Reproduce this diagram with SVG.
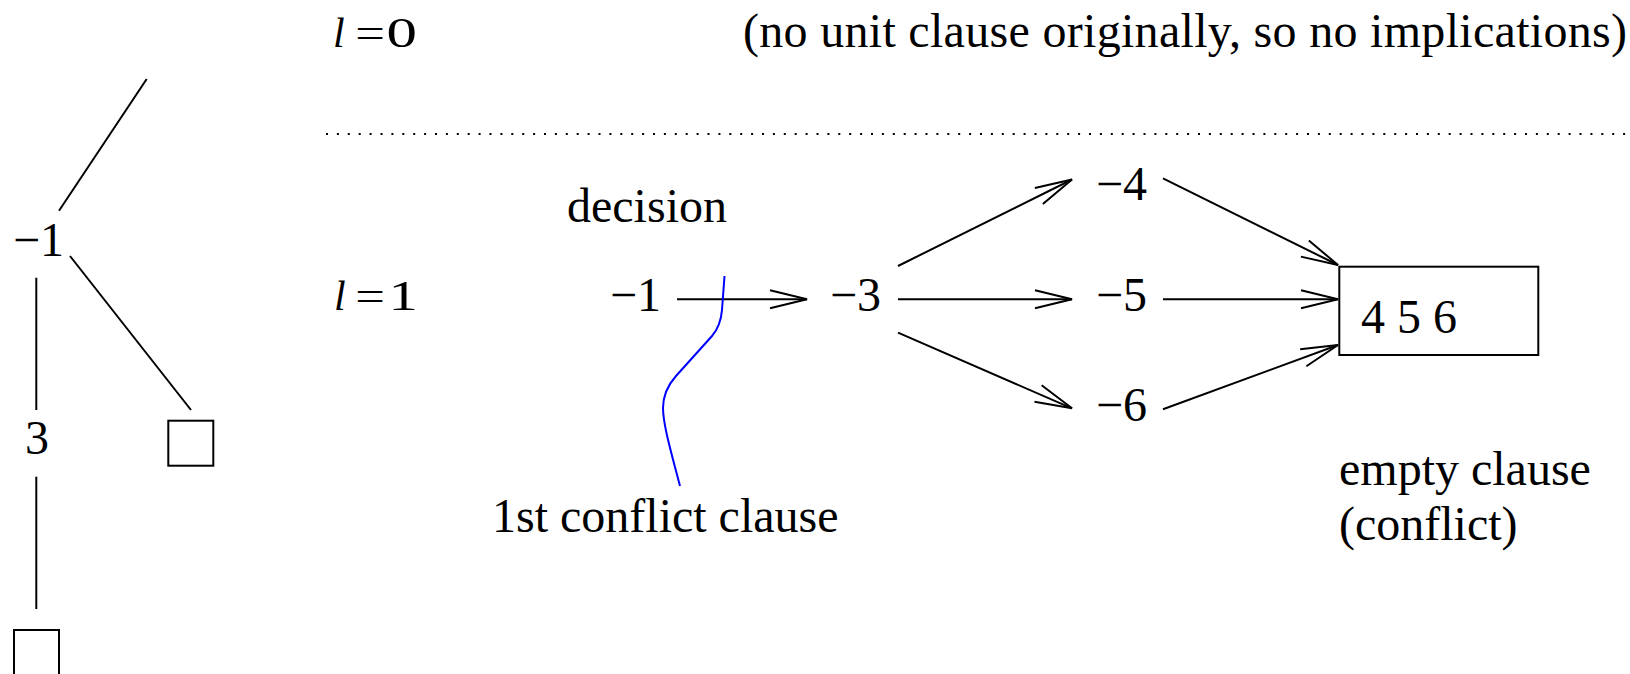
<svg xmlns="http://www.w3.org/2000/svg" width="1630" height="674" viewBox="0 0 1630 674">
<style>
text{font-family:"Liberation Serif","Times New Roman",serif;font-size:48px;fill:#000}
.lab{font-size:42px}
.ln{stroke:#000;stroke-width:2;fill:none}
.arr{stroke:#000;stroke-width:2;fill:none;marker-end:url(#ah)}
.box{stroke:#000;stroke-width:2;fill:#fff}
</style>
<defs>
<marker id="ah" markerUnits="userSpaceOnUse" viewBox="-40 -12 42 24" refX="0" refY="0" markerWidth="42" markerHeight="24" orient="auto">
<path d="M-37,-9 L0,0 L-37,9" fill="none" stroke="#000" stroke-width="2"/>
</marker>
</defs>
<rect width="1630" height="674" fill="#fff"/>

<g id="tree">
<g id="tree-lines">
<line class="ln" x1="146.7" y1="79" x2="59" y2="210.7"/>
<line class="ln" x1="70" y1="256" x2="191" y2="410"/>
<line class="ln" x1="36.3" y1="277.7" x2="36.3" y2="410"/>
<line class="ln" x1="36.3" y1="476.7" x2="36.3" y2="609"/>
</g>
<g id="tree-n1"><text x="13" y="256">−1</text></g>
<g id="tree-3"><text x="25" y="454">3</text></g>
<g id="tree-leaf-right"><rect class="box" x="168.3" y="420.7" width="45" height="45"/></g>
<g id="tree-leaf-bottom"><rect class="box" x="14" y="630" width="45" height="45"/></g>
</g>

<g id="level0">
<text class="lab" x="333" y="46.7" font-style="italic">l</text>
<text class="lab" transform="translate(357,46.7) scale(1.25,1)" x="-1.4" y="0">=</text>
<text class="lab" transform="translate(388,46.7) scale(1.45,1)" x="-1" y="0">0</text>
</g>
<g id="note"><text x="743" y="47" textLength="884" lengthAdjust="spacing">(no unit clause originally, so no implications)</text></g>
<line id="separator" x1="326" y1="134" x2="1628" y2="134" stroke="#000" stroke-width="2" stroke-dasharray="2 8.9"/>

<g id="level1">
<text class="lab" x="334" y="310" font-style="italic">l</text>
<text class="lab" transform="translate(357,310) scale(1.25,1)" x="-1.4" y="0">=</text>
<text class="lab" transform="translate(395,310) scale(1.4,1)" x="-4.7" y="0">1</text>
</g>

<g id="connectors">
<line class="arr" x1="677" y1="299.3" x2="807" y2="299.3"/>
<line class="arr" x1="898" y1="266" x2="1072" y2="179.5"/>
<line class="arr" x1="898" y1="299.3" x2="1072" y2="299.3"/>
<line class="arr" x1="898" y1="332.7" x2="1072" y2="408.3"/>
<line class="arr" x1="1163" y1="178.3" x2="1338" y2="265"/>
<line class="arr" x1="1163" y1="299.3" x2="1338" y2="299.3"/>
<line class="arr" x1="1163" y1="409.3" x2="1338" y2="345"/>
</g>

<g id="decision-label"><text x="567" y="222">decision</text></g>
<g id="n-1"><text x="610" y="311">−1</text></g>
<g id="n-3"><text x="830" y="311">−3</text></g>
<g id="n-4"><text x="1096" y="200">−4</text></g>
<g id="n-5"><text x="1096" y="311">−5</text></g>
<g id="n-6"><text x="1096" y="421">−6</text></g>
<g id="clause">
<rect class="box" x="1339.3" y="266.7" width="199" height="88.3"/>
<text x="1361" y="333">4 5 6</text>
</g>
<g id="empty-label"><text x="1339" y="485">empty clause</text><text x="1339" y="540">(conflict)</text></g>
<g id="cut">
<path d="M724.5,276 L722,310 C721,322 718,329 712,336 L676,376 C668,385 663,395 663,408 C663,425 672,455 680,486" fill="none" stroke="#0000ff" stroke-width="2"/>
<text x="492" y="532">1st conflict clause</text>
</g>
</svg>
